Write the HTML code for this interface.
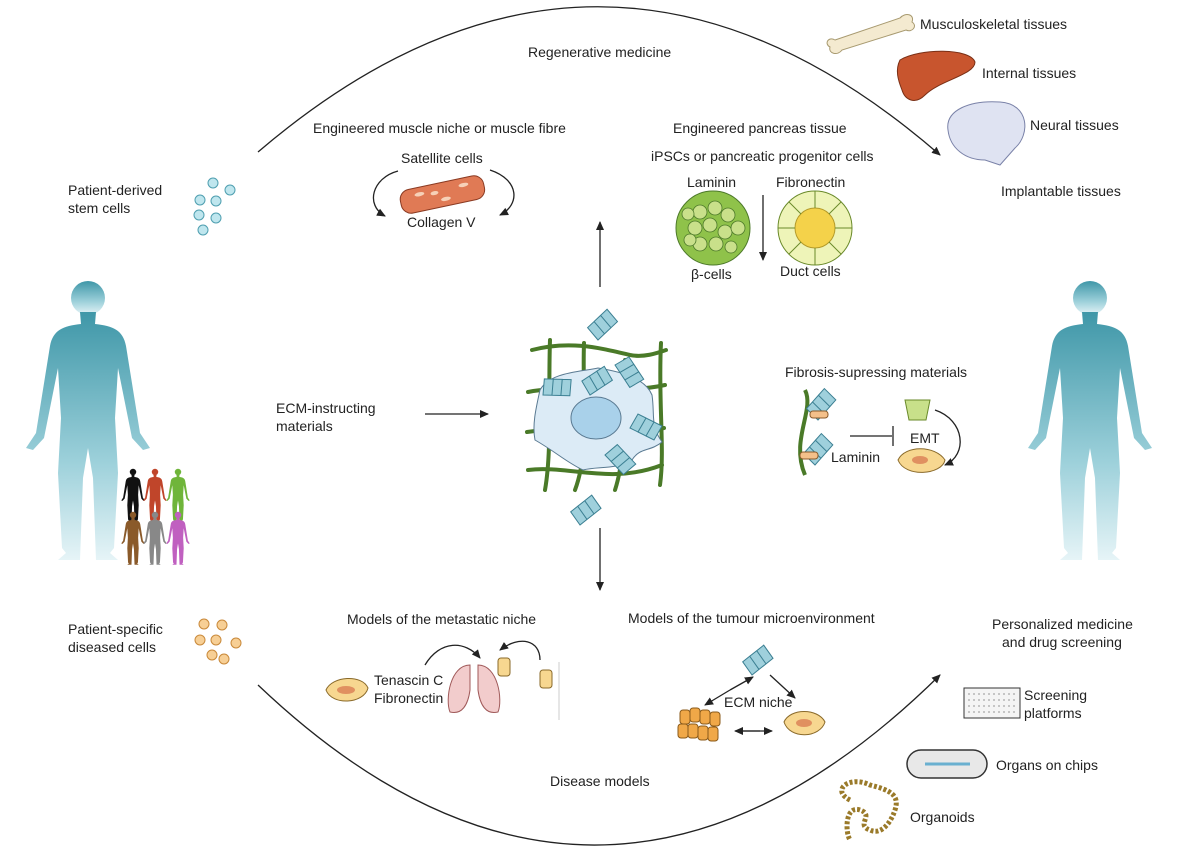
<!DOCTYPE html>
<html><head><meta charset="utf-8"><style>
body{margin:0;background:#fff;}
svg{display:block;font-family:"Liberation Sans",sans-serif;}
text{font-size:14px;fill:#222;}
</style></head><body>
<svg width="1200" height="863" viewBox="0 0 1200 863">
<defs>
<linearGradient id="hg" x1="0" y1="0" x2="0" y2="1">
<stop offset="0" stop-color="#3f97a8"/><stop offset="0.6" stop-color="#9cd0da"/><stop offset="1" stop-color="#e6f4f7"/>
</linearGradient>
<marker id="ar" markerWidth="10" markerHeight="10" refX="8" refY="5" orient="auto" markerUnits="userSpaceOnUse"><path d="M0,1 L9,5 L0,9 z" fill="#222"/></marker>
<g id="human">
<circle cx="0" cy="0" r="17"/>
<path d="M-8,14 L-7,26 C-25,28 -35,32 -38,48 L-52,135 L-62,150 L-55,152 L-44,140 L-30,70 L-27,120 L-30,175 L-26,250 L-22,255 L-30,262 L-8,262 L-5,180 L0,150 L5,180 L8,262 L30,262 L22,255 L26,250 L30,175 L27,120 L30,70 L44,140 L55,152 L62,150 L52,135 L38,48 C35,32 25,28 7,26 L8,14 z"/>
</g>
<g id="frag"><path d="M0,0 l8,-14 l8,4 l-8,14 z M8,4 l8,-14 l8,4 l-8,14z M16,8 l8,-14 l8,4 l-8,14z" fill="#9fd0dc" stroke="#3b7f92" stroke-width="1"/></g>
</defs>

<path d="M258,152 Q600,-140 940,155" fill="none" stroke="#222" stroke-width="1.3" marker-end="url(#ar)"/>
<path d="M258,685 Q600,1010 940,675" fill="none" stroke="#222" stroke-width="1.3" marker-end="url(#ar)"/>

<g fill="url(#hg)" transform="translate(88,298)"><use href="#human"/></g>
<g fill="url(#hg)" transform="translate(1090,298)"><use href="#human"/></g>
<g transform="translate(133,472) scale(0.19)" fill="#111"><use href="#human"/></g>
<g transform="translate(155,472) scale(0.19)" fill="#c0452a"><use href="#human"/></g>
<g transform="translate(178,472) scale(0.19)" fill="#6fb53a"><use href="#human"/></g>
<g transform="translate(133,515) scale(0.19)" fill="#8a5a2a"><use href="#human"/></g>
<g transform="translate(155,515) scale(0.19)" fill="#888"><use href="#human"/></g>
<g transform="translate(178,515) scale(0.19)" fill="#c060c0"><use href="#human"/></g>

<text x="528" y="57">Regenerative medicine</text>
<text x="313" y="133">Engineered muscle niche or muscle fibre</text>
<text x="401" y="163">Satellite cells</text>
<text x="407" y="227">Collagen V</text>
<text x="673" y="133">Engineered pancreas tissue</text>
<text x="651" y="161">iPSCs or pancreatic progenitor cells</text>
<text x="687" y="187">Laminin</text>
<text x="776" y="187">Fibronectin</text>
<text x="691" y="279">β-cells</text>
<text x="780" y="276">Duct cells</text>
<text x="68" y="195">Patient-derived</text>
<text x="68" y="213">stem cells</text>
<text x="920" y="29">Musculoskeletal tissues</text>
<text x="982" y="78">Internal tissues</text>
<text x="1030" y="130">Neural tissues</text>
<text x="1001" y="196">Implantable tissues</text>
<text x="276" y="413">ECM-instructing</text>
<text x="276" y="431">materials</text>
<text x="785" y="377">Fibrosis-supressing materials</text>
<text x="910" y="443">EMT</text>
<text x="831" y="462">Laminin</text>
<text x="68" y="634">Patient-specific</text>
<text x="68" y="652">diseased cells</text>
<text x="347" y="624">Models of the metastatic niche</text>
<text x="628" y="623">Models of the tumour microenvironment</text>
<text x="374" y="685">Tenascin C</text>
<text x="374" y="703">Fibronectin</text>
<text x="724" y="707">ECM niche</text>
<text x="550" y="786">Disease models</text>
<text x="992" y="629">Personalized medicine</text>
<text x="1002" y="647">and drug screening</text>
<text x="1024" y="700">Screening</text>
<text x="1024" y="718">platforms</text>
<text x="996" y="770">Organs on chips</text>
<text x="910" y="822">Organoids</text>

<g stroke="#222" stroke-width="1.3" fill="none">
<line x1="425" y1="414" x2="488" y2="414" marker-end="url(#ar)"/>
<line x1="600" y1="287" x2="600" y2="222" marker-end="url(#ar)"/>
<line x1="600" y1="528" x2="600" y2="590" marker-end="url(#ar)"/>
<line x1="763" y1="195" x2="763" y2="260" marker-end="url(#ar)"/>
<path d="M398,171 C372,178 365,205 385,216" marker-end="url(#ar)"/>
<path d="M490,170 C520,180 520,205 500,215" marker-end="url(#ar)"/>
<line x1="850" y1="436" x2="892" y2="436"/><line x1="893" y1="426" x2="893" y2="446"/>
<path d="M935,410 C965,420 968,455 945,465" marker-end="url(#ar)"/>
<path d="M425,665 C440,640 465,640 480,658" marker-end="url(#ar)"/>
<path d="M540,660 C540,640 520,635 500,650" marker-end="url(#ar)"/>
<line x1="730" y1="690" x2="705" y2="705" marker-end="url(#ar)"/>
<line x1="730" y1="690" x2="753" y2="677" marker-end="url(#ar)"/>
<line x1="770" y1="675" x2="795" y2="698" marker-end="url(#ar)"/>
<line x1="740" y1="731" x2="772" y2="731" marker-end="url(#ar)"/>
<line x1="760" y1="731" x2="735" y2="731" marker-end="url(#ar)"/>
</g>

<g fill="#bfe6ee" stroke="#4f9fb0">
<circle cx="213" cy="183" r="5"/><circle cx="230" cy="190" r="5"/><circle cx="200" cy="200" r="5"/>
<circle cx="216" cy="201" r="5"/><circle cx="199" cy="215" r="5"/><circle cx="216" cy="218" r="5"/><circle cx="203" cy="230" r="5"/>
</g>
<g fill="#f7cf95" stroke="#c9893a">
<circle cx="204" cy="624" r="5"/><circle cx="222" cy="625" r="5"/><circle cx="200" cy="640" r="5"/>
<circle cx="216" cy="640" r="5"/><circle cx="236" cy="643" r="5"/><circle cx="212" cy="655" r="5"/><circle cx="224" cy="659" r="5"/>
</g>

<g transform="rotate(-12 440 195)">
<rect x="400" y="183" width="85" height="24" rx="10" fill="#e07a55" stroke="#8a3a22"/>
<g fill="#f6d1b8"><ellipse cx="420" cy="190" rx="5" ry="2"/><ellipse cx="445" cy="200" rx="5" ry="2"/><ellipse cx="465" cy="190" rx="5" ry="2"/><ellipse cx="435" cy="192" rx="4" ry="2"/></g>
</g>

<g>
<circle cx="713" cy="228" r="37" fill="#8fc24a" stroke="#4d7a2a"/>
<g fill="#c9e08a" stroke="#4d7a2a" stroke-width="0.8">
<circle cx="700" cy="212" r="7"/><circle cx="715" cy="208" r="7"/><circle cx="728" cy="215" r="7"/><circle cx="695" cy="228" r="7"/>
<circle cx="710" cy="225" r="7"/><circle cx="725" cy="232" r="7"/><circle cx="700" cy="244" r="7"/><circle cx="716" cy="244" r="7"/>
<circle cx="738" cy="228" r="7"/><circle cx="688" cy="214" r="6"/><circle cx="731" cy="247" r="6"/><circle cx="690" cy="240" r="6"/>
</g>
<circle cx="815" cy="228" r="37" fill="#eef4b8" stroke="#6a8a2a"/>
<circle cx="815" cy="228" r="20" fill="#f4d24a" stroke="#b49a2a"/>
<g stroke="#6a8a2a"><line x1="815" y1="191" x2="815" y2="208"/><line x1="815" y1="248" x2="815" y2="265"/><line x1="778" y1="228" x2="795" y2="228"/><line x1="835" y1="228" x2="852" y2="228"/>
<line x1="789" y1="202" x2="801" y2="214"/><line x1="841" y1="202" x2="829" y2="214"/><line x1="789" y1="254" x2="801" y2="242"/><line x1="841" y1="254" x2="829" y2="242"/></g>
</g>

<path d="M835,40 L900,18 C905,12 915,14 912,22 C918,26 912,33 906,30 L842,50 C838,56 828,54 830,47 C824,44 828,36 835,40z" fill="#f4ead0" stroke="#a89a70"/>
<path d="M900,60 C920,48 970,48 975,62 C975,75 940,80 925,95 C915,105 905,100 902,90 C898,80 895,70 900,60z" fill="#c8552e" stroke="#7a2f15"/>
<path d="M948,130 C945,110 970,100 1000,102 C1030,104 1030,135 1015,148 L1000,165 L985,160 C965,160 950,148 948,130z" fill="#dfe3f2" stroke="#7a82a8"/>

<g stroke="#4a7a28" stroke-width="4" fill="none" stroke-linecap="round">
<path d="M532,350 C570,340 600,348 630,355 C645,358 660,352 666,350"/>
<path d="M528,392 C560,385 620,395 665,385"/>
<path d="M527,432 C570,425 620,438 664,428"/>
<path d="M528,470 C570,465 610,485 662,465"/>
<path d="M550,340 C548,400 552,450 545,490"/>
<path d="M584,343 C582,400 590,450 575,490"/>
<path d="M625,360 C622,400 628,450 615,490"/>
<path d="M661,343 C658,400 665,450 660,485"/>
</g>
<path d="M540,390 C550,372 580,372 598,368 C622,372 645,378 652,395 C655,415 650,425 662,442 C650,452 640,447 632,460 C615,470 598,466 583,470 C566,462 556,452 535,440 C532,425 536,408 540,390z" fill="#dcebf6" stroke="#5a7a92"/>
<ellipse cx="596" cy="418" rx="25" ry="21" fill="#a9d1ea" stroke="#5a7a92"/>
<use href="#frag" transform="translate(598,340) rotate(-70)"/>
<use href="#frag" transform="translate(543,395) rotate(-25)"/>
<use href="#frag" transform="translate(590,395) rotate(-60)"/>
<use href="#frag" transform="translate(615,365) rotate(30)"/>
<use href="#frag" transform="translate(630,428) rotate(0)"/>
<use href="#frag" transform="translate(605,455) rotate(20)"/>
<use href="#frag" transform="translate(580,525) rotate(-65)"/>

<path d="M805,390 C815,410 790,440 805,475" stroke="#4a7a28" stroke-width="4" fill="none"/>
<use href="#frag" transform="translate(818,420) rotate(-75)"/>
<use href="#frag" transform="translate(815,465) rotate(-75)"/>
<rect x="810" y="411" width="18" height="7" rx="3" fill="#f4c08a" stroke="#8a5a2a"/>
<rect x="800" y="452" width="18" height="7" rx="3" fill="#f4c08a" stroke="#8a5a2a"/>
<path d="M905,400 L930,400 L926,420 L909,420z" fill="#c8e08a" stroke="#6a8a2a"/>
<path d="M898,460 C905,445 935,445 945,460 C942,475 905,478 898,460z" fill="#f7d790" stroke="#8a6a2a"/>
<ellipse cx="920" cy="460" rx="8" ry="4" fill="#e09060"/>

<path d="M326,690 C332,676 362,674 368,688 C364,704 332,706 326,690z" fill="#f7d790" stroke="#8a6a2a"/>
<ellipse cx="346" cy="690" rx="9" ry="4" fill="#e09060"/>
<path d="M470,665 C450,665 445,700 450,712 C462,715 468,705 470,690z M478,665 C498,665 503,700 498,712 C486,715 480,705 478,690z" fill="#f2cccc" stroke="#a05a5a"/>
<rect x="498" y="658" width="12" height="18" rx="3" fill="#f7d790" stroke="#8a6a2a"/>
<rect x="540" y="670" width="12" height="18" rx="3" fill="#f7d790" stroke="#8a6a2a"/>
<line x1="559" y1="662" x2="559" y2="720" stroke="#ccc"/>

<use href="#frag" transform="translate(752,675) rotate(-65)"/>
<g fill="#f0a848" stroke="#8a5a1a">
<rect x="680" y="710" width="10" height="14" rx="3"/><rect x="690" y="708" width="10" height="14" rx="3"/><rect x="700" y="710" width="10" height="14" rx="3"/><rect x="710" y="712" width="10" height="14" rx="3"/>
<rect x="678" y="724" width="10" height="14" rx="3"/><rect x="688" y="724" width="10" height="14" rx="3"/><rect x="698" y="726" width="10" height="14" rx="3"/><rect x="708" y="727" width="10" height="14" rx="3"/>
</g>
<path d="M784,722 C790,708 818,708 825,722 C820,738 790,740 784,722z" fill="#f7d790" stroke="#8a6a2a"/>
<ellipse cx="804" cy="723" rx="8" ry="4" fill="#e09060"/>

<rect x="964" y="688" width="56" height="30" fill="#f4f4f4" stroke="#333"/>
<g fill="none" stroke="#777" stroke-width="0.7">
<line x1="968" y1="694" x2="1016" y2="694" stroke-dasharray="2 3"/><line x1="968" y1="700" x2="1016" y2="700" stroke-dasharray="2 3"/>
<line x1="968" y1="706" x2="1016" y2="706" stroke-dasharray="2 3"/><line x1="968" y1="712" x2="1016" y2="712" stroke-dasharray="2 3"/></g>
<rect x="907" y="750" width="80" height="28" rx="14" fill="#e8e8e8" stroke="#333" stroke-width="1.5"/>
<line x1="925" y1="764" x2="970" y2="764" stroke="#6ab0d0" stroke-width="3"/>
<path d="M850,800 C830,790 850,775 870,785 C890,790 900,795 895,810 C890,825 880,835 870,830 C855,825 875,815 860,810 C845,805 845,832 850,840" fill="none" stroke="#9a7a2a" stroke-width="5" stroke-dasharray="3 2"/>
</svg>
</body></html>
